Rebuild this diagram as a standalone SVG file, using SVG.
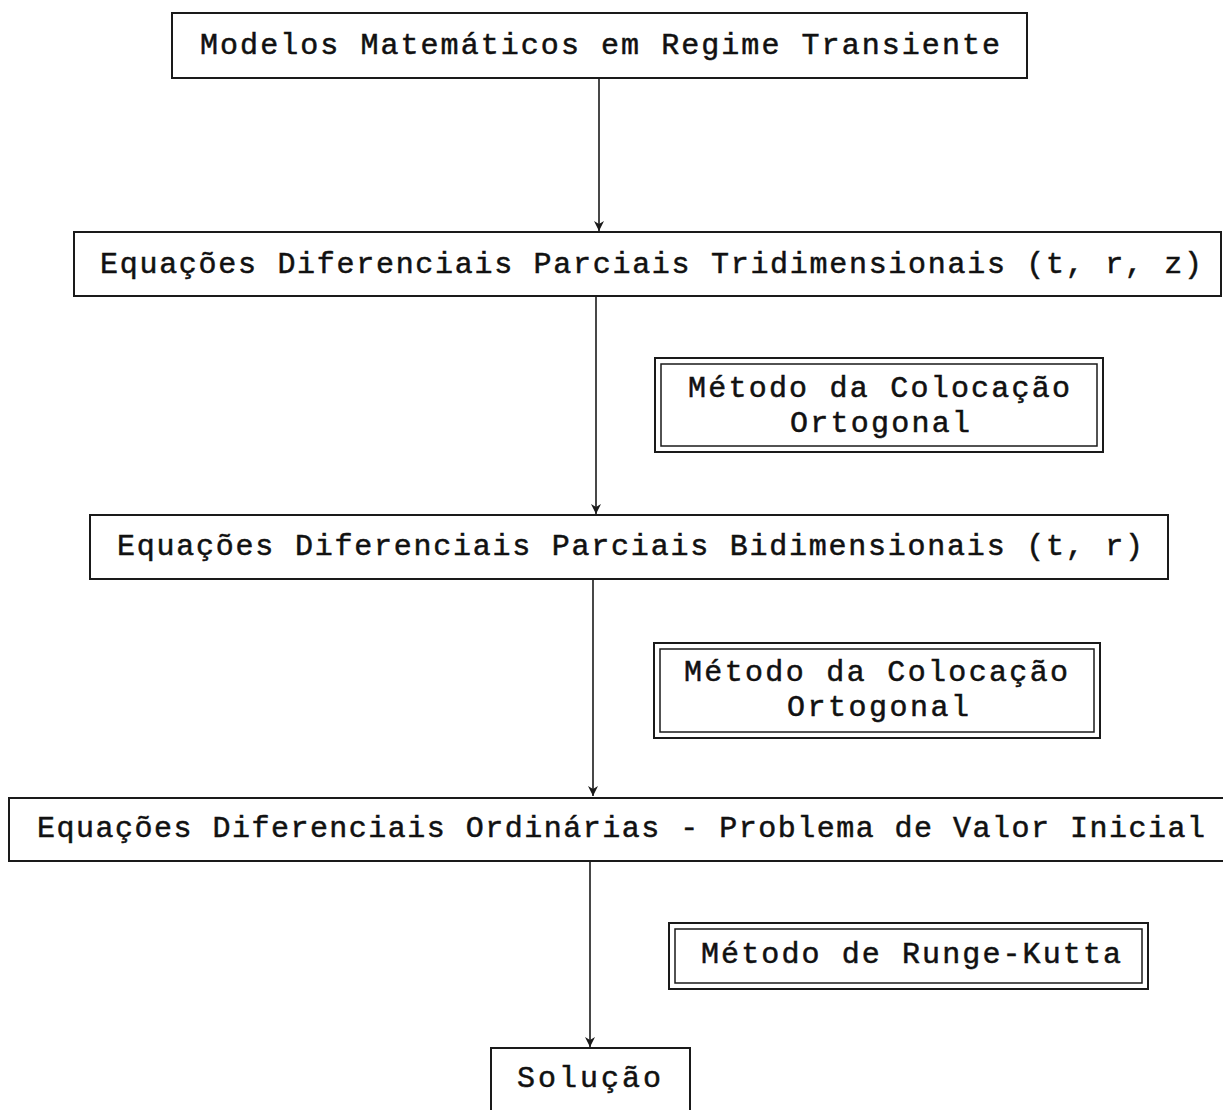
<svg xmlns="http://www.w3.org/2000/svg" width="1223" height="1110" viewBox="0 0 1223 1110">
<style>
.box{fill:#fff;stroke:#1a1a1a;stroke-width:2}
.inner{fill:none;stroke:#1a1a1a;stroke-width:1.5}
.t{font-family:"Liberation Mono","Courier New",monospace;font-size:30px;fill:#111;stroke:#111;stroke-width:0.5}
.c{stroke:#1a1a1a;stroke-width:1.6;fill:none;marker-end:url(#ah)}
</style>
<defs>
<marker id="ah" markerWidth="12" markerHeight="12" refX="10" refY="6" orient="auto" markerUnits="userSpaceOnUse">
<path d="M0,1 L10,6 L0,11 L3,6 Z" fill="#1a1a1a"/>
</marker>
</defs>
<rect width="1223" height="1110" fill="#fff"/>
<g id="connectors">
<line class="c" x1="599" y1="78" x2="599" y2="231"/>
<line class="c" x1="596" y1="296" x2="596" y2="514"/>
<line class="c" x1="593" y1="579" x2="593" y2="796"/>
<line class="c" x1="590" y1="861" x2="590" y2="1047"/>
</g>
<g id="n1">
<rect class="box" x="172" y="13" width="855" height="65"/>
<text class="t" x="200" y="54" textLength="800" lengthAdjust="spacing">Modelos Matemáticos em Regime Transiente</text>
</g>
<g id="n2">
<rect class="box" x="74" y="232" width="1147" height="64"/>
<text class="t" x="100" y="273" textLength="1102" lengthAdjust="spacing">Equações Diferenciais Parciais Tridimensionais (t, r, z)</text>
</g>
<g id="m1">
<rect class="box" x="655" y="358" width="448" height="94"/>
<rect class="inner" x="661" y="364" width="436" height="82"/>
<text class="t" x="688" y="397" textLength="382" lengthAdjust="spacing">Método da Colocação</text>
<text class="t" x="790" y="432" textLength="180" lengthAdjust="spacing">Ortogonal</text>
</g>
<g id="n3">
<rect class="box" x="90" y="515" width="1078" height="64"/>
<text class="t" x="117" y="555" textLength="1026" lengthAdjust="spacing">Equações Diferenciais Parciais Bidimensionais (t, r)</text>
</g>
<g id="m2">
<rect class="box" x="654" y="643" width="446" height="95"/>
<rect class="inner" x="660" y="649" width="434" height="83"/>
<text class="t" x="684" y="681" textLength="384" lengthAdjust="spacing">Método da Colocação</text>
<text class="t" x="787" y="716" textLength="182" lengthAdjust="spacing">Ortogonal</text>
</g>
<g id="n4">
<rect class="box" x="9" y="798" width="1225" height="63"/>
<text class="t" x="37" y="837" textLength="1168" lengthAdjust="spacing">Equações Diferenciais Ordinárias - Problema de Valor Inicial</text>
</g>
<g id="m3">
<rect class="box" x="669" y="923" width="479" height="66"/>
<rect class="inner" x="675" y="929" width="467" height="54"/>
<text class="t" x="701" y="963" textLength="420" lengthAdjust="spacing">Método de Runge-Kutta</text>
</g>
<g id="n5">
<rect class="box" x="491" y="1048" width="199" height="70"/>
<text class="t" x="517" y="1087" textLength="144" lengthAdjust="spacing">Solução</text>
</g>
</svg>
